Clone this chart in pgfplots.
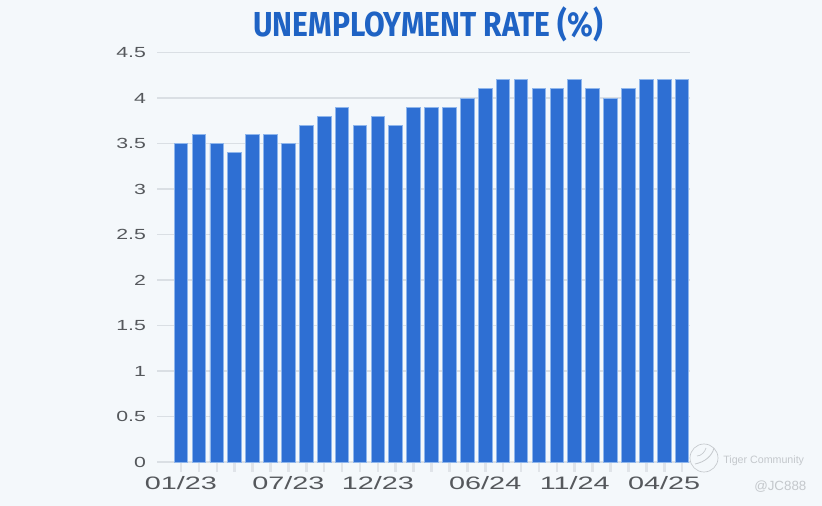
\documentclass[border=0pt]{standalone}
\usepackage{pgfplots}
\usepackage{fontspec}
\setmainfont{Liberation Sans}
\newfontfamily\titlefont{Fira Sans}
\pgfplotsset{compat=1.18}
\definecolor{bg}{HTML}{F4F8FB}
\definecolor{barc}{HTML}{2E6FD3}
\definecolor{bare}{HTML}{8FB6EC}
\definecolor{gridc}{HTML}{DADFE4}
\definecolor{tickl}{HTML}{E0E4E9}
\definecolor{tickc}{HTML}{55585C}
\definecolor{titlec}{HTML}{1F63C4}
\definecolor{wm}{HTML}{C4C8CC}
\begin{document}
\begin{tikzpicture}[x=0.75pt,y=0.75pt]
\path[fill=bg] (0,0) rectangle (822,506);
\begin{axis}[
  at={(117.75pt,33pt)},anchor=south west,
  scale only axis,
  width=399.75pt,height=307.1pt,
  xmin=-1.34,xmax=28.44,ymin=0,ymax=4.5,
  ytick={0,0.5,1,1.5,2,2.5,3,3.5,4,4.5},
  yticklabels={0,0.5,1,1.5,2,2.5,3,3.5,4,4.5},
  xtick={0,1,...,28},
  xticklabels={01/23,,,,,,07/23,,,,,12/23,,,,,,06/24,,,,,11/24,,,,,04/25,},
  ymajorgrids,
  grid style={gridc,line width=1.1pt},
  axis line style={draw=none},
  axis x line*=bottom, axis y line*=left,
  tick align=outside,
  major tick length=7.5pt,
  x tick style={tickl,line width=1.9pt},
  y tick style={draw=none},
  x tick label style={text=tickc,font=\fontsize{13.5}{15}\selectfont,xscale=1.6,yshift=0pt},
  y tick label style={text=tickc,font=\fontsize{11}{13}\selectfont,xscale=1.45,xshift=3pt},
  clip=false,
]
\addplot[ybar,bar width=10.2pt,fill=barc,draw=bare,line width=0.7pt,bar shift=0pt] coordinates {
(0,3.5)(1,3.6)(2,3.5)(3,3.4)(4,3.6)(5,3.6)(6,3.5)(7,3.7)(8,3.8)(9,3.9)
(10,3.7)(11,3.8)(12,3.7)(13,3.9)(14,3.9)(15,3.9)(16,4.0)(17,4.1)(18,4.2)(19,4.2)
(20,4.1)(21,4.1)(22,4.2)(23,4.1)(24,4.0)(25,4.1)(26,4.2)(27,4.2)(28,4.2)};
\end{axis}
\node[text=titlec,font=\titlefont\bfseries\fontsize{26}{30}\selectfont,xscale=0.866] at (428,482) {UNEMPLOYMENT RATE (\%)};
\draw[wm,line width=0.5pt] (704,48) circle (14);
\draw[wm,line width=0.6pt] (695,42) .. controls (705,44) and (712,50) .. (714,58);
\draw[wm,line width=0.5pt] (697,50) .. controls (701,50) and (705,54) .. (706,58);
\node[text=wm,font=\fontsize{8}{9}\selectfont,anchor=west,inner sep=0pt] at (723,45) {Tiger Community};
\node[text=wm,font=\fontsize{10}{11}\selectfont,anchor=west,inner sep=0pt] at (754,19) {@JC888};
\end{tikzpicture}
\end{document}
